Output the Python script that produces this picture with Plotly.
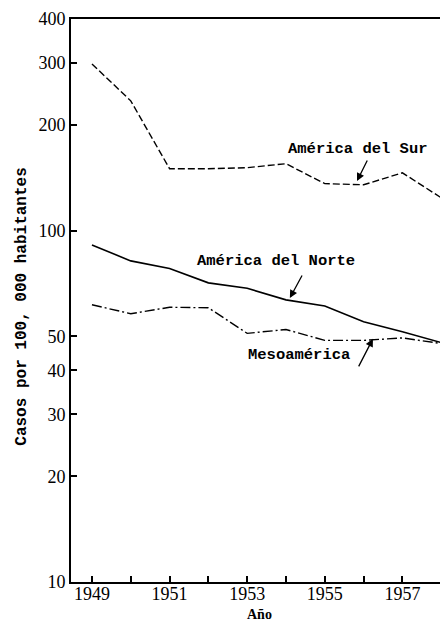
import numpy as np
import plotly.graph_objects as go

years = [1949, 1950, 1951, 1952, 1953, 1954, 1955, 1956, 1957, 1958]
sur = [298, 234, 150, 150, 151, 155, 136, 135, 146, 124]
norte = [91, 82, 78, 71, 68.5, 63.5, 61, 55, 51.5, 48]
meso = [61.5, 58, 60.5, 60.3, 51, 52.3, 48.7, 48.7, 49.5, 47.7]

xtick_vals = years
xtick_text = ["1949", "", "1951", "", "1953", "", "1955", "", "1957", ""]
ytick_vals = [10, 20, 30, 40, 50, 100, 200, 300, 400]
ytick_text = ["10", "20", "30", "40", "50", "100", "200", "300", "400"]

MONO = "Liberation Mono"
SERIF = "Liberation Serif"

fig = go.Figure()
fig.add_trace(go.Scatter(x=years, y=sur, mode="lines", name="América del Sur",
                         line=dict(color="black", width=1.4, dash="7px,3px")))
fig.add_trace(go.Scatter(x=years, y=norte, mode="lines", name="América del Norte",
                         line=dict(color="black", width=1.6)))
fig.add_trace(go.Scatter(x=years, y=meso, mode="lines", name="Mesoamérica",
                         line=dict(color="black", width=1.4, dash="10px,3px,2px,3px")))

lg = np.log10

labels = [
    # text, x, y(value), underline x0, x1, y(value), arrow head x, y(value), ax, ay
    ("América del Sur", 1955.86, 170.6, 1955.06, 1956.11, 159.9, 1955.83, 138.4, 11, -22),
    ("América del Norte", 1953.74, 82.0, 1952.89, 1954.44, 75.2, 1954.10, 64.3, 13, -24),
    ("Mesoamérica", 1954.34, 44.3, 1953.64, 1955.86, 40.6, 1956.24, 49.2, -15, 29),
]
annotations = []
shapes = []
for t, tx, ty, ux0, ux1, uy, hx, hy, ax, ay in labels:
    annotations.append(dict(x=tx, y=lg(ty), xref="x", yref="y", text="<b>%s</b>" % t,
                            showarrow=False, font=dict(family=MONO, size=15.5, color="black"),
                            xanchor="center", yanchor="middle"))
    shapes.append(dict(type="line", xref="x", yref="y", x0=ux0, x1=ux1, y0=lg(uy), y1=lg(uy),
                       line=dict(color="black", width=1.4)))
    annotations.append(dict(x=hx, y=lg(hy), xref="x", yref="y", text="", showarrow=True,
                            ax=ax, ay=ay, axref="pixel", ayref="pixel",
                            arrowhead=2, arrowsize=1.2, arrowwidth=1.3, arrowcolor="black"))

annotations.append(dict(x=-0.13, y=0.489, xref="paper", yref="paper",
                        text="<b>Casos por 100, 000 habitantes</b>", textangle=-90,
                        showarrow=False, font=dict(family=MONO, size=16, color="black"),
                        xanchor="center", yanchor="middle"))
annotations.append(dict(x=0.5, y=-0.058, xref="paper", yref="paper",
                        text="<b>Año</b>", showarrow=False,
                        font=dict(family=SERIF, size=14, color="black"),
                        xanchor="center", yanchor="middle"))

fig.update_layout(
    width=440, height=616,
    margin=dict(l=63, r=0, t=11, b=42),
    plot_bgcolor="white", paper_bgcolor="white",
    showlegend=False,
    annotations=annotations,
    shapes=shapes,
    xaxis=dict(range=[1948.46, 1958.175], tickvals=xtick_vals, ticktext=xtick_text,
               ticks="inside", ticklen=6, tickwidth=1.5, tickcolor="black",
               ticklabelstandoff=-6,
               showline=True, linecolor="black", linewidth=2, mirror=True,
               showgrid=False, zeroline=False,
               tickfont=dict(family=SERIF, size=18, color="black")),
    yaxis=dict(type="log", range=[1, lg(400)], tickvals=ytick_vals, ticktext=ytick_text,
               ticks="inside", ticklen=6, tickwidth=1.5, tickcolor="black",
               showline=True, linecolor="black", linewidth=2, mirror=False,
               showgrid=False, zeroline=False,
               tickfont=dict(family=SERIF, size=18, color="black")),
)

fig.write_html("out.html")
